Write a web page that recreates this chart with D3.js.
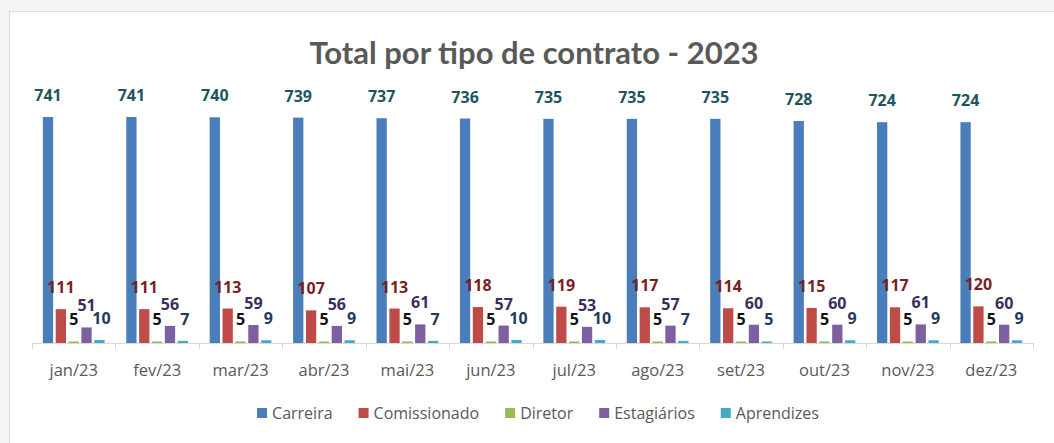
<!DOCTYPE html>
<html>
<head>
<meta charset="utf-8">
<script src="https://cdn.jsdelivr.net/npm/d3@7"></script>
<style>
  body { margin: 0; background: #f4f4f4; }
  svg { display: block; }
</style>
</head>
<body>
<div id="chart-container"></div>
<script>
const months = ['jan/23', 'fev/23', 'mar/23', 'abr/23', 'mai/23', 'jun/23', 'jul/23', 'ago/23', 'set/23', 'out/23', 'nov/23', 'dez/23']
const seriesNames = ['Carreira', 'Comissionado', 'Diretor', 'Estagiários', 'Aprendizes']
const carreira = [741, 741, 740, 739, 737, 736, 735, 735, 735, 728, 724, 724]
const comissionado = [111, 111, 113, 107, 113, 118, 119, 117, 114, 115, 117, 120]
const diretor = [5, 5, 5, 5, 5, 5, 5, 5, 5, 5, 5, 5]
const estagiarios = [51, 56, 59, 56, 61, 57, 53, 57, 60, 60, 61, 60]
const aprendizes = [10, 7, 9, 9, 7, 10, 10, 7, 5, 9, 9, 9]

const barColors = ['#4a7ebb', '#be4b48', '#98b954', '#7d60a0', '#46aac5']
const labelColors = ['#1d5660', '#7a1f1f', '#111111', '#3b2d5c', '#1f3a5c']

width = 1054
height = 443

const values = [carreira, comissionado, diretor, estagiarios, aprendizes]
const dataset = months.map((m, i) => ({
    month: m,
    items: seriesNames.map((s, j) => ({ series: s, idx: j, value: values[j][i] }))
}))

const svg = d3.select('#chart-container')
    .append('svg')
    .attr('width', width)
    .attr('height', height)

// chart area frame
svg.append('rect')
    .attr('x', 9.5)
    .attr('y', 11.5)
    .attr('width', width)
    .attr('height', height)
    .attr('fill', 'white')
    .attr('stroke', '#dcdcdc')

// Title
svg.append('text')
    .attr('x', 534)
    .attr('y', 64)
    .attr('text-anchor', 'middle')
    .attr('font-family', 'Lato, sans-serif')
    .attr('font-weight', 'bold')
    .attr('font-size', '31px')
    .attr('fill', '#595959')
    .text('Total por tipo de contrato - 2023')

// Scales
const x0 = d3.scaleBand()
    .domain(months)
    .range([32, 1033])
    .paddingInner(0.26)
    .paddingOuter(0.13)

const x1 = d3.scaleBand()
    .domain(seriesNames)
    .range([0, x0.bandwidth()])
    .paddingInner(0.2)

const yScale = d3.scaleLinear()
    .domain([0, 800])
    .range([343, 99])

// Bars
const groups = svg.selectAll('.month')
    .data(dataset)
    .enter()
    .append('g')
    .attr('class', 'month')
    .attr('transform', d => 'translate(' + x0(d.month) + ',0)')

groups.selectAll('rect')
    .data(d => d.items)
    .enter()
    .append('rect')
    .attr('x', d => x1(d.series))
    .attr('y', d => yScale(d.value))
    .attr('width', x1.bandwidth())
    .attr('height', d => yScale(0) - yScale(d.value))
    .attr('fill', d => barColors[d.idx])

// Value labels (small ones nudged right a touch so they don't collide)
groups.selectAll('text')
    .data(d => d.items)
    .enter()
    .append('text')
    .attr('x', d => x1(d.series) + x1.bandwidth() / 2 + (d.idx === 4 ? 2 : 0))
    .attr('y', d => yScale(d.value) - 16)
    .attr('text-anchor', 'middle')
    .attr('font-family', 'Open Sans, sans-serif')
    .attr('font-weight', 'bold')
    .attr('font-size', '16px')
    .attr('fill', d => labelColors[d.idx])
    .text(d => d.value)

// Axis
const step = x0.step()
const boundaries = months.map(m => x0(m) - x0.paddingInner() * step / 2)
boundaries.push(x0.range()[1])
svg.append('line')
    .attr('x1', x0.range()[0])
    .attr('x2', x0.range()[1])
    .attr('y1', yScale(0) + 0.5)
    .attr('y2', yScale(0) + 0.5)
    .attr('stroke', '#d9d9d9')
svg.selectAll('.tick-mark')
    .data(boundaries)
    .enter()
    .append('line')
    .attr('class', 'tick-mark')
    .attr('x1', d => Math.round(d) + 0.5)
    .attr('x2', d => Math.round(d) + 0.5)
    .attr('y1', yScale(0))
    .attr('y2', yScale(0) + 6)
    .attr('stroke', '#d9d9d9')

svg.selectAll('.month-label')
    .data(months)
    .enter()
    .append('text')
    .attr('class', 'month-label')
    .attr('x', d => x0(d) + x0.bandwidth() / 2)
    .attr('y', 376)
    .attr('text-anchor', 'middle')
    .attr('font-family', 'Open Sans, sans-serif')
    .attr('font-size', '16.5px')
    .attr('fill', '#595959')
    .text(d => d)

// Legend
const legend = svg.append('g').attr('id', 'legend')
let lx = 0
seriesNames.forEach((s, i) => {
    const item = legend.append('g').attr('transform', 'translate(' + lx + ',0)')
    item.append('rect')
        .attr('x', 0)
        .attr('y', -11)
        .attr('width', 10)
        .attr('height', 10)
        .attr('fill', barColors[i])
    const t = item.append('text')
        .attr('x', 15)
        .attr('y', 0)
        .attr('font-family', 'Open Sans, sans-serif')
        .attr('font-size', '16px')
        .attr('fill', '#595959')
        .text(s)
    lx += 15 + t.node().getComputedTextLength() + 26
})
const legendWidth = lx - 26
legend.attr('transform', 'translate(' + (538 - legendWidth / 2) + ',419)')
</script>
</body>
</html>
